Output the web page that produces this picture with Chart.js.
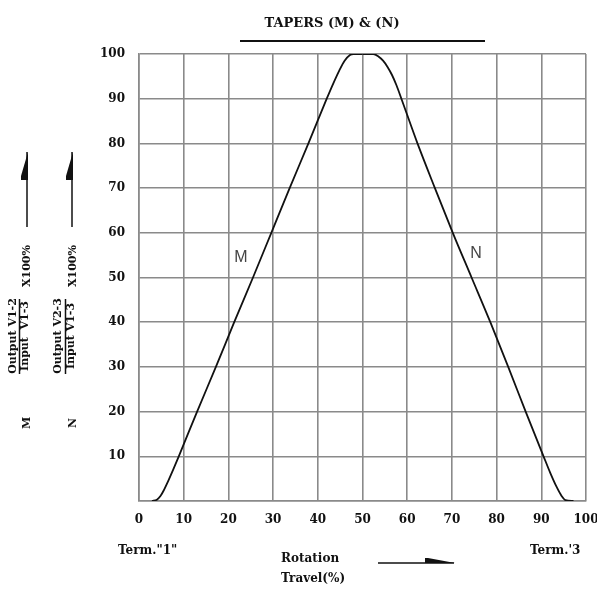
<!DOCTYPE html>
<html>
<head>
<meta charset="utf-8">
<script src="https://cdn.jsdelivr.net/npm/chart.js@4"></script>
<style>
  body { margin: 0; background: #fff; }
  canvas { display: block; }
</style>
</head>
<body>
<canvas id="chartTapers" width="597" height="590"></canvas>
<script>
// curve M (rising) and curve N (falling)
const seriesNames = ['M', 'N'];
const mTravel = [2.9, 4.0, 4.8, 5.6, 6.5, 7.6, 8.9, 13.0, 17.2, 21.3, 25.5, 29.6, 33.7, 37.9, 42.0, 43.5, 44.8, 46.0, 47.2, 48.0, 50];
const mOutput = [0, 0.3, 1.1, 2.5, 4.4, 6.9, 10, 20, 30, 40, 50, 60, 70, 80, 90, 93.5, 96.3, 98.5, 99.8, 100, 100];
const nTravel = [50, 52.4, 53.5, 54.6, 55.6, 56.6, 57.6, 58.7, 62.3, 66.2, 70.2, 74.4, 78.6, 82.6, 86.5, 90.5, 92.0, 93.4, 94.5, 95.4, 97.2];
const nOutput = [100, 100, 99.5, 98.5, 97.1, 95.3, 93, 90, 80, 70, 60, 50, 40, 30, 20, 10, 6.3, 3.2, 1.2, 0.2, 0];
// where the curve letters sit (travel %, output %)
const labelM = [22.8, 54.4];
const labelN = [75.4, 55.3];

window.onload = function () {
    const serif = "'DejaVu Serif', 'Liberation Serif', serif";

    function pts(xs, ys) {
        const out = [];
        for (let i = 0; i < xs.length; i++) {
            out.push({ x: xs[i], y: ys[i] });
        }
        return out;
    }

    function flagUp(ctx, x, top, bottom) {
        ctx.beginPath();
        ctx.moveTo(x, top);
        ctx.lineTo(x, bottom);
        ctx.stroke();
        ctx.beginPath();
        ctx.moveTo(x + 1, top);
        ctx.lineTo(x - 6, top + 24);
        ctx.lineTo(x - 6, top + 28);
        ctx.lineTo(x + 1, top + 28);
        ctx.closePath();
        ctx.fill();
    }

    function vText(ctx, txt, x, y) {
        ctx.save();
        ctx.translate(x, y);
        ctx.rotate(-Math.PI / 2);
        ctx.fillText(txt, 0, 0);
        ctx.restore();
    }

    const extras = {
        id: 'extras',
        afterDraw(chart) {
            const ctx = chart.ctx;
            const xs = chart.scales.x;
            const ys = chart.scales.y;
            ctx.save();
            ctx.fillStyle = '#111';
            ctx.strokeStyle = '#111';

            // title + underline
            ctx.font = 'bold 13px ' + serif;
            ctx.textAlign = 'center';
            ctx.textBaseline = 'middle';
            ctx.fillText('TAPERS (M) & (N)', 332, 24);
            ctx.lineWidth = 2;
            ctx.beginPath();
            ctx.moveTo(240, 41);
            ctx.lineTo(485, 41);
            ctx.stroke();

            // curve letters
            ctx.font = '16px ' + "'Liberation Sans', Arial, sans-serif";
            ctx.fillStyle = '#444';
            ctx.fillText(seriesNames[0], xs.getPixelForValue(labelM[0]), ys.getPixelForValue(labelM[1]));
            ctx.fillText(seriesNames[1], xs.getPixelForValue(labelN[0]), ys.getPixelForValue(labelN[1]));
            ctx.fillStyle = '#111';

            // left hand y titles (rotated)
            ctx.font = 'bold 11px ' + serif;
            ctx.lineWidth = 1.5;
            const cols = [
                { top: 13, line: 19.5, bot: 25, num: 'Output V1-2', den: 'Input  V1-3', mark: seriesNames[0], arrow: 27 },
                { top: 58, line: 65.5, bot: 71, num: 'Output V2-3', den: 'Input V1-3', mark: seriesNames[1], arrow: 72 }
            ];
            for (const c of cols) {
                vText(ctx, c.num, c.top, 336);
                vText(ctx, c.den, c.bot, 336);
                ctx.beginPath();
                ctx.moveTo(c.line, 299);
                ctx.lineTo(c.line, 374);
                ctx.stroke();
                vText(ctx, 'X100%', c.bot + 2, 266);
                vText(ctx, c.mark, c.bot + 2, 423);
                flagUp(ctx, c.arrow, 152, 227);
            }

            // bottom texts
            ctx.font = 'bold 12px ' + serif;
            ctx.textAlign = 'left';
            ctx.fillText('Term."1"', 118, 551);
            ctx.fillText("Term.'3", 530, 551);
            ctx.fillText('Rotation', 281, 559);
            ctx.fillText('Travel(%)', 281, 579);
            ctx.lineWidth = 1.5;
            ctx.beginPath();
            ctx.moveTo(378, 563);
            ctx.lineTo(454, 563);
            ctx.stroke();
            ctx.beginPath();
            ctx.moveTo(455, 563);
            ctx.lineTo(428, 558);
            ctx.lineTo(425, 558);
            ctx.lineTo(425, 563);
            ctx.closePath();
            ctx.fill();
            ctx.restore();
        }
    };

    const gridColor = '#8a8a8a';
    const tickFont = { family: serif, size: 12, weight: 'bold' };
    const config = {
        type: 'scatter',
        data: {
            datasets: [
                {
                    label: seriesNames[0],
                    data: pts(mTravel, mOutput),
                    showLine: true,
                    borderColor: '#111',
                    borderWidth: 1.8,
                    pointRadius: 0,
                    cubicInterpolationMode: 'monotone',
                },
                {
                    label: seriesNames[1],
                    data: pts(nTravel, nOutput),
                    showLine: true,
                    borderColor: '#111',
                    borderWidth: 1.8,
                    pointRadius: 0,
                    cubicInterpolationMode: 'monotone',
                }
            ]
        },
        options: {
            responsive: false,
            animation: false,
            layout: { padding: { left: 100, right: 11, top: 54, bottom: 0 } },
            plugins: {
                legend: { display: false },
                title: { display: false },
                tooltip: { enabled: false }
            },
            scales: {
                x: {
                    type: 'linear',
                    min: 0,
                    max: 100,
                    afterFit: function (s) {
                        s.height = 89;
                        s.paddingLeft = 0;
                        s.paddingRight = 0;
                    },
                    grid: { color: gridColor, lineWidth: 1.6, drawTicks: false },
                    border: { color: gridColor, width: 1.6 },
                    ticks: {
                        stepSize: 10,
                        maxRotation: 0,
                        padding: 12,
                        color: '#111',
                        font: tickFont
                    }
                },
                y: {
                    type: 'linear',
                    min: 0,
                    max: 100,
                    afterFit: function (s) {
                        s.width = 39;
                        s.paddingTop = 0;
                        s.paddingBottom = 0;
                    },
                    grid: { color: gridColor, lineWidth: 1.6, drawTicks: false },
                    border: { color: gridColor, width: 1.6 },
                    ticks: {
                        stepSize: 10,
                        padding: 14,
                        color: '#111',
                        font: tickFont,
                        callback: function (v) { return v === 0 ? '' : v; }
                    }
                }
            }
        },
        plugins: [extras]
    };

    const myChart = new Chart(document.getElementById('chartTapers'), config);
};
</script>
</body>
</html>
